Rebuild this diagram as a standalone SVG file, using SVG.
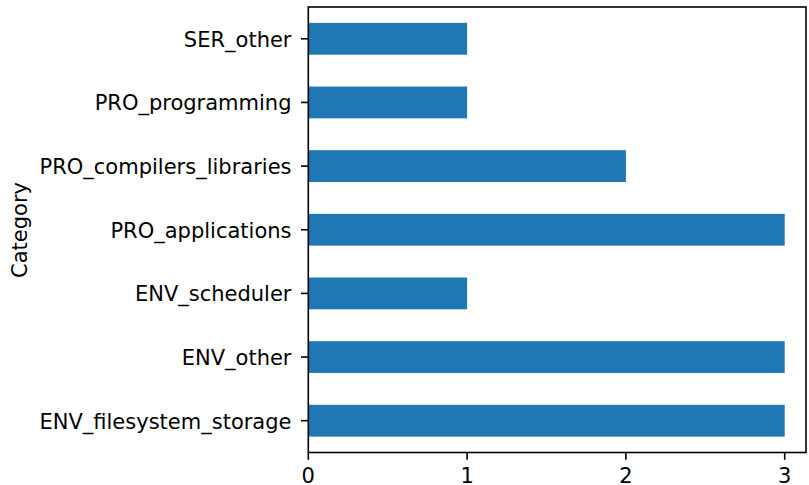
<svg xmlns="http://www.w3.org/2000/svg" width="809" height="485" viewBox="0 0 809 485">
<style>
.bar{fill:#1f77b4}
.spine{stroke:#000;stroke-width:1.6;fill:none;stroke-linecap:square}
.tick{stroke:#000;stroke-width:1.6}
.lbl{font-family:"DejaVu Sans",sans-serif;font-size:21px;fill:#000}
.yl{text-anchor:end}
.xl{text-anchor:middle}
</style>
<rect width="809" height="485" fill="#fff"/>
<g id="bars">
<rect id="bar-SER_other" class="bar" x="308.3" y="22.9" width="158.8" height="31.8"/>
<rect id="bar-PRO_programming" class="bar" x="308.3" y="86.55" width="158.8" height="31.8"/>
<rect id="bar-PRO_compilers_libraries" class="bar" x="308.3" y="150.2" width="317.6" height="31.8"/>
<rect id="bar-PRO_applications" class="bar" x="308.3" y="213.85" width="476.4" height="31.8"/>
<rect id="bar-ENV_scheduler" class="bar" x="308.3" y="277.5" width="158.8" height="31.8"/>
<rect id="bar-ENV_other" class="bar" x="308.3" y="341.15" width="476.4" height="31.8"/>
<rect id="bar-ENV_filesystem_storage" class="bar" x="308.3" y="404.8" width="476.4" height="31.8"/>
</g>
<g id="axes">
<rect class="spine" x="308.3" y="7" width="497.7" height="445.5"/>
<g id="yticks">
<line class="tick" x1="301" y1="38.8" x2="308.3" y2="38.8"/>
<line class="tick" x1="301" y1="102.45" x2="308.3" y2="102.45"/>
<line class="tick" x1="301" y1="166.1" x2="308.3" y2="166.1"/>
<line class="tick" x1="301" y1="229.75" x2="308.3" y2="229.75"/>
<line class="tick" x1="301" y1="293.4" x2="308.3" y2="293.4"/>
<line class="tick" x1="301" y1="357.05" x2="308.3" y2="357.05"/>
<line class="tick" x1="301" y1="420.7" x2="308.3" y2="420.7"/>
</g>
<g id="xticks">
<line class="tick" x1="308.3" y1="452.5" x2="308.3" y2="459.8"/>
<line class="tick" x1="467.1" y1="452.5" x2="467.1" y2="459.8"/>
<line class="tick" x1="625.9" y1="452.5" x2="625.9" y2="459.8"/>
<line class="tick" x1="784.7" y1="452.5" x2="784.7" y2="459.8"/>
</g>
<g id="ylabels">
<text class="lbl yl" x="291.5" y="46.8">SER_other</text>
<text class="lbl yl" x="291.5" y="110.45">PRO_programming</text>
<text class="lbl yl" x="291.5" y="174.1">PRO_compilers_libraries</text>
<text class="lbl yl" x="291.5" y="237.75">PRO_applications</text>
<text class="lbl yl" x="291.5" y="301.4">ENV_scheduler</text>
<text class="lbl yl" x="291.5" y="365.05">ENV_other</text>
<text class="lbl yl" x="291.5" y="428.7">ENV_filesystem_storage</text>
</g>
<g id="xlabels">
<text class="lbl xl" x="308.3" y="482.5">0</text>
<text class="lbl xl" x="467.1" y="482.5">1</text>
<text class="lbl xl" x="625.9" y="482.5">2</text>
<text class="lbl xl" x="784.7" y="482.5">3</text>
</g>
<text id="ylabel" class="lbl xl" transform="translate(27,230) rotate(-90)">Category</text>
</g>
</svg>
